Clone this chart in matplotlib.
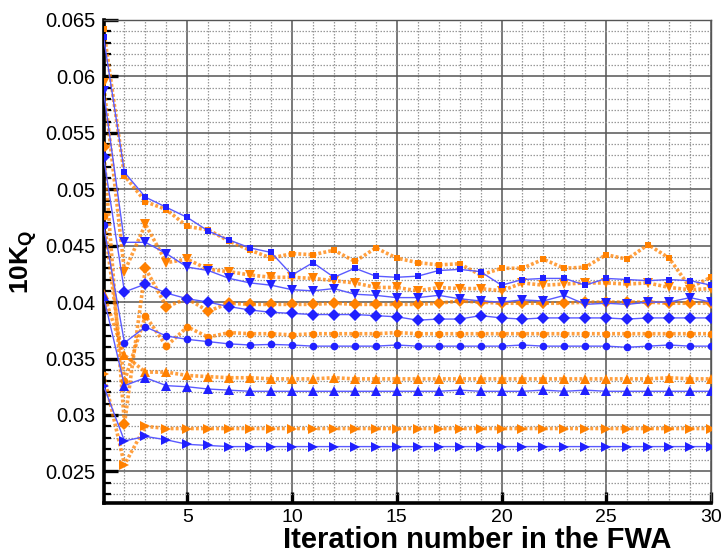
import numpy as np
import matplotlib.pyplot as plt
from matplotlib.ticker import MultipleLocator, FuncFormatter

plt.rcParams['font.family'] = ['Liberation Sans', 'DejaVu Sans']
plt.rcParams['mathtext.fontset'] = 'custom'
plt.rcParams['mathtext.bf'] = 'Liberation Sans:bold'
plt.rcParams['mathtext.rm'] = 'Liberation Sans'

iterations = np.arange(1, 31)

# 10K_Q per FWA iteration, blue = solid runs, orange = dotted runs
blue_square = [0.0635, 0.0515, 0.0493, 0.0484, 0.0475, 0.0463, 0.0455, 0.0448, 0.0444, 0.0424,
               0.0435, 0.0422, 0.0430, 0.0423, 0.0422, 0.0423, 0.0428, 0.0429, 0.0427, 0.0415,
               0.0420, 0.0421, 0.0421, 0.0415, 0.0421, 0.0420, 0.0419, 0.0420, 0.0419, 0.0415]
orange_square = [0.0642, 0.0512, 0.0489, 0.0482, 0.0467, 0.0464, 0.0454, 0.0446, 0.0439, 0.0443,
                 0.0442, 0.0446, 0.0436, 0.0448, 0.0439, 0.0435, 0.0433, 0.0434, 0.0424, 0.0430,
                 0.0430, 0.0438, 0.0430, 0.0431, 0.0442, 0.0438, 0.0451, 0.0439, 0.0413, 0.0422]
blue_down = [0.0587, 0.0453, 0.0453, 0.0443, 0.0431, 0.0428, 0.0421, 0.0417, 0.0415, 0.0411,
             0.0410, 0.0412, 0.0407, 0.0406, 0.0404, 0.0404, 0.0406, 0.0403, 0.0401, 0.0400,
             0.0402, 0.0401, 0.0406, 0.0398, 0.0399, 0.0398, 0.0400, 0.0400, 0.0404, 0.0400]
orange_down = [0.0594, 0.0427, 0.0469, 0.0435, 0.0438, 0.0429, 0.0427, 0.0424, 0.0422, 0.0422,
               0.0421, 0.0419, 0.0417, 0.0413, 0.0413, 0.0410, 0.0413, 0.0412, 0.0412, 0.0410,
               0.0417, 0.0415, 0.0416, 0.0417, 0.0417, 0.0416, 0.0417, 0.0413, 0.0411, 0.0412]
blue_diamond = [0.0529, 0.0409, 0.0416, 0.0408, 0.0403, 0.0400, 0.0396, 0.0393, 0.0391, 0.0390,
                0.0389, 0.0389, 0.0389, 0.0388, 0.0387, 0.0384, 0.0385, 0.0385, 0.0388, 0.0386,
                0.0385, 0.0386, 0.0386, 0.0386, 0.0386, 0.0385, 0.0386, 0.0386, 0.0386, 0.0386]
orange_diamond = [0.0537, 0.0292, 0.0430, 0.0396, 0.0403, 0.0392, 0.0399, 0.0398, 0.0398, 0.0398,
                  0.0398, 0.0399, 0.0398, 0.0398, 0.0398, 0.0398, 0.0399, 0.0401, 0.0400, 0.0399,
                  0.0399, 0.0399, 0.0399, 0.0400, 0.0400, 0.0400, 0.0400, 0.0399, 0.0399, 0.0399]
blue_circle = [0.0468, 0.0364, 0.0378, 0.0370, 0.0367, 0.0365, 0.0363, 0.0362, 0.03625, 0.0362,
               0.0361, 0.0361, 0.0361, 0.0361, 0.0362, 0.0361, 0.0361, 0.0361, 0.0361, 0.0361,
               0.0362, 0.0361, 0.0361, 0.0361, 0.0361, 0.0360, 0.0361, 0.0362, 0.0361, 0.0361]
orange_circle = [0.0476, 0.0330, 0.0388, 0.0361, 0.0378, 0.0369, 0.0373, 0.0372, 0.0372, 0.0371,
                 0.0372, 0.0372, 0.0372, 0.0372, 0.0373, 0.0372, 0.0372, 0.0372, 0.0372, 0.0372,
                 0.0372, 0.0372, 0.0372, 0.0372, 0.0372, 0.0372, 0.0372, 0.0372, 0.0372, 0.0372]
blue_up = [0.0405, 0.0326, 0.0333, 0.0326, 0.0325, 0.0323, 0.0322, 0.0321, 0.0321, 0.0321,
           0.0321, 0.0321, 0.0321, 0.0321, 0.0321, 0.0321, 0.0321, 0.0322, 0.0321, 0.0321,
           0.0321, 0.0322, 0.0321, 0.0322, 0.0321, 0.0321, 0.0321, 0.0321, 0.0321, 0.0321]
orange_up = [0.0407, 0.0353, 0.0338, 0.0338, 0.0335, 0.0334, 0.0333, 0.0333, 0.0332, 0.0332,
             0.0332, 0.0333, 0.0332, 0.0332, 0.0332, 0.0332, 0.0332, 0.0332, 0.0332, 0.0332,
             0.0332, 0.0332, 0.0332, 0.0332, 0.0332, 0.0332, 0.0332, 0.0333, 0.0332, 0.0332]
blue_right = [0.0326, 0.0277, 0.0281, 0.0278, 0.0274, 0.0273, 0.0272, 0.0272, 0.0272, 0.0272,
              0.0272, 0.0272, 0.0272, 0.0272, 0.0272, 0.0272, 0.0272, 0.0272, 0.0272, 0.0272,
              0.0272, 0.0272, 0.0272, 0.0272, 0.0272, 0.0272, 0.0272, 0.0272, 0.0272, 0.0272]
orange_right = [0.0336, 0.0256, 0.0290, 0.0288, 0.0288, 0.0288, 0.0288, 0.0288, 0.0288, 0.0288,
                0.0288, 0.0288, 0.0288, 0.0288, 0.0288, 0.0288, 0.0288, 0.0288, 0.0288, 0.0288,
                0.0288, 0.0288, 0.0288, 0.0288, 0.0288, 0.0288, 0.0288, 0.0288, 0.0288, 0.0288]

pairs = [
    ('s', 5.0, orange_square, blue_square),
    ('v', 7.5, orange_down, blue_down),
    ('D', 6.0, orange_diamond, blue_diamond),
    ('o', 5.5, orange_circle, blue_circle),
    ('^', 7.5, orange_up, blue_up),
    ('>', 7.5, orange_right, blue_right),
]

ORANGE = '#ff8000'
BLUE = '#2020ff'

fig = plt.figure(figsize=(7.24, 5.54), dpi=100)
ax = fig.add_axes([0.143, 0.092, 0.839, 0.872])

# grid first so the curves sit on top
ax.set_axisbelow(True)
ax.grid(which='major', color='#555555', linestyle='-', linewidth=1.1)
ax.grid(which='minor', color='#999999', linestyle=(0, (1.2, 1.2)), linewidth=0.9)

for marker, ms, orange_vals, blue_vals in pairs:
    ax.plot(iterations, orange_vals, color=ORANGE, alpha=0.75, linestyle=(0, (0.8, 0.6)),
            linewidth=2.6, zorder=2)
    ax.plot(iterations, orange_vals, linestyle='none', marker=marker, markersize=ms,
            color=ORANGE, markeredgewidth=0, zorder=3)
for marker, ms, orange_vals, blue_vals in pairs:
    ax.plot(iterations, blue_vals, color='#5a5aff', linestyle='-', linewidth=1.0, zorder=4)
    ax.plot(iterations, blue_vals, linestyle='none', marker=marker, markersize=ms,
            color=BLUE, markeredgewidth=0, zorder=5)

ax.set_xlim(1, 30)
ax.set_ylim(0.0222, 0.065)

ax.xaxis.set_major_locator(MultipleLocator(5))
ax.xaxis.set_minor_locator(MultipleLocator(1))
ax.yaxis.set_major_locator(MultipleLocator(0.005))
ax.yaxis.set_minor_locator(MultipleLocator(0.001))
ax.yaxis.set_major_formatter(FuncFormatter(lambda v, p: '%g' % round(v, 4)))

ax.tick_params(axis='y', which='major', direction='in', length=10, width=2.4,
               labelsize=14.5, pad=6, colors='black')
ax.tick_params(axis='y', which='minor', direction='in', length=5, width=1.6)
ax.tick_params(axis='x', which='major', direction='in', length=8, width=2.4,
               labelsize=14, pad=4)
ax.tick_params(axis='x', which='minor', length=0)

for side in ('left', 'bottom'):
    ax.spines[side].set_linewidth(2.6)
    ax.spines[side].set_color('black')
for side in ('top', 'right'):
    ax.spines[side].set_linewidth(1.0)
    ax.spines[side].set_color('#555555')

ax.set_xlabel('Iteration number in the FWA', fontsize=21, fontweight='bold', va='baseline')
ax.xaxis.set_label_coords(0.615, -0.093)
ax.set_ylabel(r'$\mathbf{10K_Q}$', fontsize=19, labelpad=4)

fig.savefig('out.png', dpi=100)
